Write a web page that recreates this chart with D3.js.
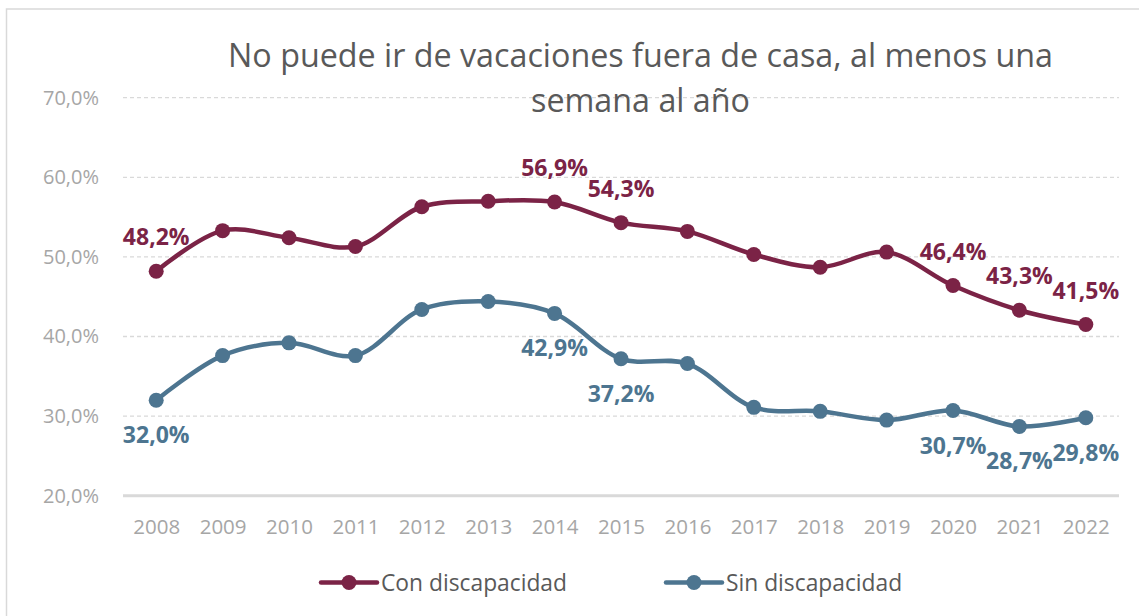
<!DOCTYPE html>
<html>
<head>
<meta charset="utf-8">
<script src="https://cdn.jsdelivr.net/npm/d3@7"></script>
<style>
  body { margin: 0; background: #fff; }
  svg { font-family: "Open Sans", sans-serif; }
</style>
</head>
<body>
<div id="chart"></div>
<script>
(function() {
  // data
  var years = [2008, 2009, 2010, 2011, 2012, 2013, 2014, 2015, 2016, 2017, 2018, 2019, 2020, 2021, 2022];
  var conDisc = [48.2, 53.3, 52.4, 51.3, 56.3, 57.0, 56.9, 54.3, 53.2, 50.3, 48.7, 50.6, 46.4, 43.3, 41.5];
  var sinDisc = [32.0, 37.6, 39.2, 37.6, 43.4, 44.4, 42.9, 37.2, 36.6, 31.1, 30.6, 29.5, 30.7, 28.7, 29.8];
  var yTicks = [20, 30, 40, 50, 60, 70];
  var labelYears = [2008, 2014, 2015, 2020, 2021, 2022];
  var seriesNames = ["Con discapacidad", "Sin discapacidad"];
  var titleLines = ["No puede ir de vacaciones fuera de casa, al menos una", "semana al año"];

  var width = 1139, height = 616;
  var colors = ["#7b2346", "#4d7590"];

  var svg = d3.select("#chart")
    .append("svg")
    .attr("width", width)
    .attr("height", height);

  // chart frame
  svg.append("rect")
    .attr("x", 6.5).attr("y", 9)
    .attr("width", width).attr("height", height)
    .attr("fill", "none")
    .attr("stroke", "#d9d9d9")
    .attr("stroke-width", 1.5);

  var x = d3.scalePoint()
    .domain(years)
    .range([123, 1119])
    .padding(0.5);

  var y = d3.scaleLinear()
    .domain([20, 70])
    .range([495.7, 97.7]);

  var fmt = function(v) { return v.toFixed(1).replace(".", ",") + "%"; };

  // gridlines
  svg.append("g")
    .selectAll("line")
    .data(yTicks.filter(function(d) { return d > 20; }))
    .enter()
    .append("line")
    .attr("x1", 123).attr("x2", 1119)
    .attr("y1", function(d) { return y(d); })
    .attr("y2", function(d) { return y(d); })
    .attr("stroke", "#d9d9d9")
    .attr("stroke-width", 1.3)
    .attr("stroke-dasharray", "4,3");

  // base axis line
  svg.append("line")
    .attr("x1", 123).attr("x2", 1119)
    .attr("y1", y(20)).attr("y2", y(20))
    .attr("stroke", "#d9d9d9")
    .attr("stroke-width", 3);

  // y labels
  var yAxis = d3.axisLeft(y)
    .tickValues(yTicks)
    .tickFormat(fmt)
    .tickSize(0)
    .tickPadding(0);
  var gy = svg.append("g")
    .attr("transform", "translate(99,0)")
    .call(yAxis);
  gy.select(".domain").remove();
  gy.selectAll("text")
    .attr("fill", "#a6a6a6")
    .attr("font-size", 20)
    .attr("font-family", "Open Sans, sans-serif");

  // x labels
  var xAxis = d3.axisBottom(x).tickSize(0).tickPadding(0);
  var gx = svg.append("g")
    .attr("transform", "translate(0,519)")
    .call(xAxis);
  gx.select(".domain").remove();
  gx.selectAll("text")
    .attr("fill", "#a6a6a6")
    .attr("font-size", 20.5)
    .attr("font-family", "Open Sans, sans-serif")
    .attr("dy", "0.72em");

  // title
  var title = svg.append("g");
  titleLines.forEach(function(t, i) {
    title.append("text")
      .attr("x", 640.5)
      .attr("y", 66.5 + i * 45)
      .attr("text-anchor", "middle")
      .attr("fill", "#595959")
      .attr("font-size", 30)
      .text(t);
  });
  // fit first line to the reference width
  var tw = title.select("text").node().getComputedTextLength();
  title.selectAll("text").attr("font-size", 30 * 825 / tw);

  // lines
  var line = d3.line()
    .x(function(d, i) { return x(years[i]); })
    .y(function(d) { return y(d); })
    .curve(d3.curveCatmullRom.alpha(0.5));

  var series = [conDisc, sinDisc];
  series.forEach(function(vals, s) {
    svg.append("path")
      .datum(vals)
      .attr("d", line)
      .attr("fill", "none")
      .attr("stroke", colors[s])
      .attr("stroke-width", 4.5)
      .attr("stroke-linejoin", "round");

    svg.append("g")
      .selectAll("circle")
      .data(vals)
      .enter()
      .append("circle")
      .attr("cx", function(d, i) { return x(years[i]); })
      .attr("cy", function(d) { return y(d); })
      .attr("r", 7.5)
      .attr("fill", colors[s]);

    // data labels: above for Con, below for Sin
    svg.append("g")
      .selectAll("text")
      .data(years.filter(function(yr) { return labelYears.indexOf(yr) >= 0; }))
      .enter()
      .append("text")
      .attr("x", function(yr) { return x(yr); })
      .attr("y", function(yr) {
        var v = vals[years.indexOf(yr)];
        return s === 0 ? y(v) - 26 : y(v) + 43;
      })
      .attr("text-anchor", "middle")
      .attr("fill", colors[s])
      .attr("font-size", 23)
      .attr("font-weight", "bold")
      .text(function(yr) { return fmt(vals[years.indexOf(yr)]); });
  });

  // legend
  var legendX = [321, 666];
  var leg = svg.append("g")
    .selectAll("g")
    .data(seriesNames)
    .enter()
    .append("g")
    .attr("transform", function(d, i) { return "translate(" + legendX[i] + ",582.5)"; });
  leg.append("line")
    .attr("x1", 0).attr("x2", 56)
    .attr("stroke", function(d, i) { return colors[i]; })
    .attr("stroke-width", 4.5)
    .attr("stroke-linecap", "round");
  leg.append("circle")
    .attr("cx", 28).attr("r", 7.5)
    .attr("fill", function(d, i) { return colors[i]; });
  leg.append("text")
    .attr("x", 60)
    .attr("y", 8)
    .attr("fill", "#595959")
    .attr("font-size", 22.8)
    .text(function(d) { return d; });
})();
</script>
</body>
</html>
